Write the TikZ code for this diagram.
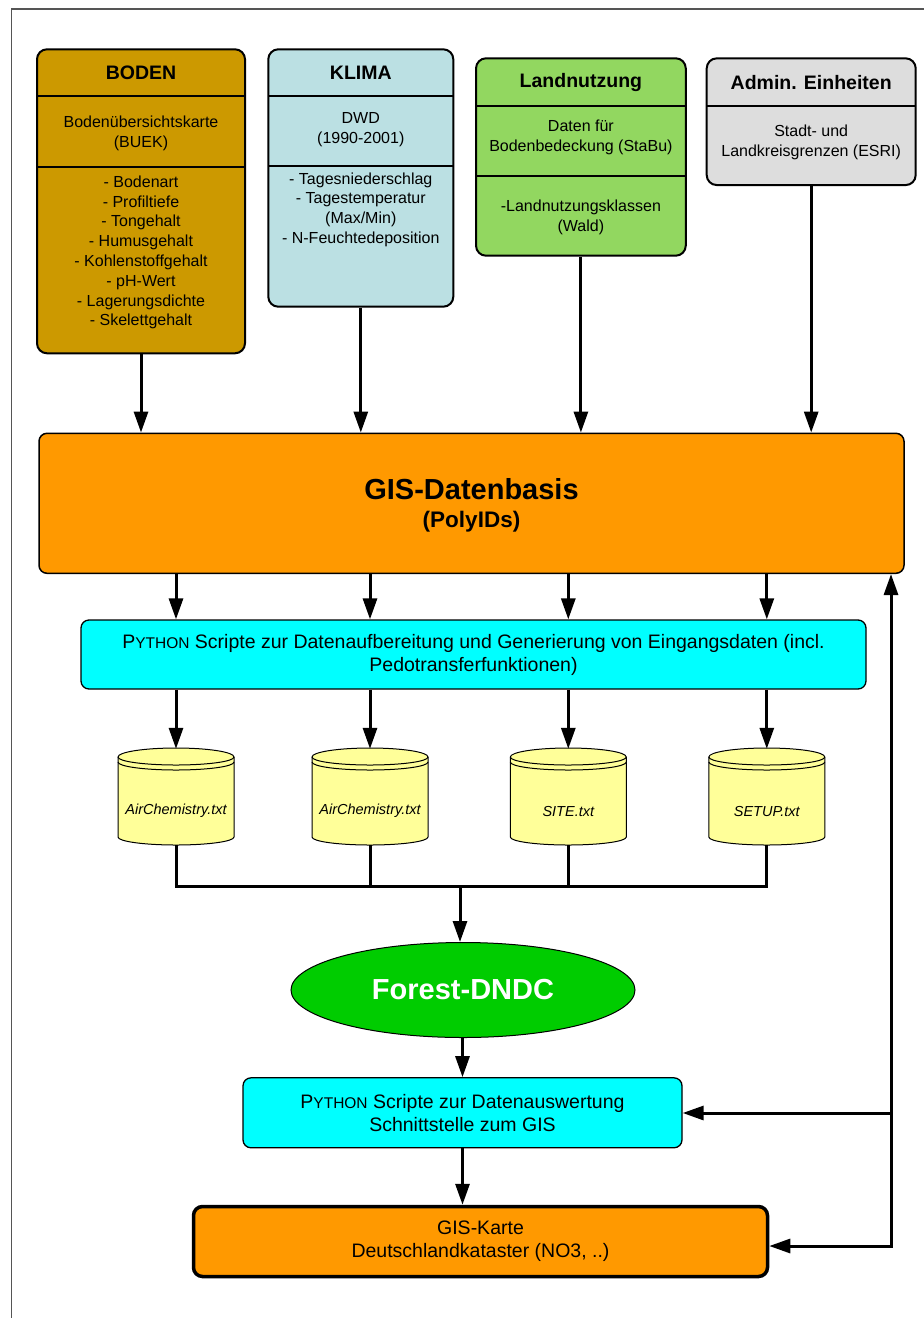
\documentclass[tikz,border=0pt]{standalone}
\usepackage{fontspec}
\setmainfont{Liberation Sans}
\usetikzlibrary{arrows.meta,shapes.geometric,calc}

\definecolor{bodenfill}{HTML}{CC9900}
\definecolor{klimafill}{HTML}{BBE0E3}
\definecolor{landfill}{HTML}{92D760}
\definecolor{adminfill}{HTML}{DDDDDD}
\definecolor{gisorange}{HTML}{FF9900}
\definecolor{pycyan}{HTML}{00FFFF}
\definecolor{cylfill}{HTML}{FFFF99}
\definecolor{dndcgreen}{HTML}{00CC00}
\definecolor{framegray}{HTML}{555555}

% Python written with small capitals
\newcommand\pyname{P{\fontsize{15.5}{18}\selectfont YTHON}}

\tikzset{
  catbox/.style={draw=black, line width=2pt, rounded corners=10pt, inner sep=0pt},
  divider/.style={line width=1.8pt},
  hdr/.style={font=\fontsize{19.5}{22}\selectfont\bfseries, inner sep=0pt},
  body/.style={font=\fontsize{16}{19.8}\selectfont, align=center, inner sep=0pt},
  tip/.tip={Triangle[length=21pt,width=14pt]},
  conn/.style={line width=3pt, -tip},
  plainline/.style={line width=3pt},
  pybox/.style={draw=black, line width=1.3pt, fill=pycyan, rounded corners=8pt,
    font=\fontsize{19.5}{23}\selectfont, align=center, inner sep=0pt},
  cylshape/.style={draw=black, line width=1pt, fill=cylfill},
  cyltext/.style={font=\fontsize{14.5}{17}\selectfont\itshape, inner sep=0pt},
  slot/.style={inner sep=0pt, minimum width=116pt, minimum height=96pt},
}

\begin{document}
\begin{tikzpicture}[x=1pt, y=-1pt]
\useasboundingbox (0,0) rectangle (924,1318);

% page frame (top and left edges)
\draw[framegray, line width=1.3pt] (924,9) -- (11.5,9) -- (11.5,1318);

% ---------- input data sources ----------
\node[catbox, fill=bodenfill, minimum width=208pt, minimum height=304pt] (boden) at (141,201.3) {};
\draw[divider] (37,96) -- (245,96);
\draw[divider] (37,166.7) -- (245,166.7);
\node[hdr] (bodenT) at (141,72.5) {BODEN};
\node[body] (bodenA) at (141,133) {Bodenübersichtskarte\\(BUEK)};
\node[body] (bodenB) at (141,252.5) {- Bodenart\\- Profiltiefe\\- Tongehalt\\- Humusgehalt\\- Kohlenstoffgehalt\\- pH-Wert\\- Lagerungsdichte\\- Skelettgehalt};

\node[catbox, fill=klimafill, minimum width=185pt, minimum height=257.4pt] (klima) at (360.8,178) {};
\draw[divider] (268.3,96) -- (453.3,96);
\draw[divider] (268.3,166.3) -- (453.3,166.3);
\node[hdr] (klimaT) at (360.8,72.5) {KLIMA};
\node[body] (klimaA) at (360.8,129.5) {DWD\\(1990-2001)};
\node[body] (klimaB) at (360.8,209.6) {- Tagesniederschlag\\- Tagestemperatur\\(Max/Min)\\- N-Feuchtedeposition};

\node[catbox, fill=landfill, minimum width=209.7pt, minimum height=197.4pt] (land) at (580.9,157) {};
\draw[divider] (476,105.7) -- (685.7,105.7);
\draw[divider] (476,175.7) -- (685.7,175.7);
\node[hdr] (landT) at (580.9,82.5) {Landnutzung};
\node[body] (landA) at (580.9,137.7) {Daten für\\Bodenbedeckung (StaBu)};
\node[body] (landB) at (580.9,217.7) {-Landnutzungsklassen\\(Wald)};

\node[catbox, fill=adminfill, minimum width=209pt, minimum height=126.7pt] (admin) at (811.2,121.7) {};
\draw[divider] (706.7,105.7) -- (915.7,105.7);
\node[hdr] (adminT) at (811.2,82.5) {Admin. Einheiten};
\node[body] (adminA) at (811.2,142.7) {Stadt- und\\Landkreisgrenzen (ESRI)};

% ---------- GIS data base ----------
\node[draw=black, line width=1.5pt, fill=gisorange, rounded corners=8pt,
      minimum width=865pt, minimum height=140pt] (gis) at (471.5,503.3) {};
\node[font=\fontsize{29}{32}\selectfont\bfseries, inner sep=0pt] (gisT) at (471.5,489.5) {GIS-Datenbasis};
\node[font=\fontsize{22.5}{26}\selectfont\bfseries, inner sep=0pt] (gisS) at (471.5,521.5) {(PolyIDs)};

\foreach \src in {boden,klima,land,admin}
  \draw[conn] (\src.south) -- (\src.south |- gis.north);

% ---------- preprocessing scripts ----------
\node[pybox, minimum width=785pt, minimum height=69pt] (py1) at (473.5,654.5)
  {\pyname{} Scripte zur Datenaufbereitung und Generierung von Eingangsdaten (incl.\\Pedotransferfunktionen)};

% ---------- input files ----------
\foreach \cx/\nm/\lbl in {176/c1/AirChemistry.txt, 370/c2/AirChemistry.txt, 568.3/c3/SITE.txt, 766.8/c4/SETUP.txt}{
  \path[cylshape] (\cx-58,757) -- (\cx-58,837)
     arc[start angle=180, end angle=0, x radius=58, y radius=8]
     -- (\cx+58,757)
     arc[start angle=0, end angle=-180, x radius=58, y radius=9] -- cycle;
  \draw[line width=1pt] (\cx-58,757) arc[start angle=180, end angle=0, x radius=58, y radius=8];
  \draw[line width=1pt] (\cx-58,762) arc[start angle=180, end angle=0, x radius=58, y radius=8];
  \node[slot] (\nm) at (\cx,797) {};
  \node[cyltext] (\nm t) at (\cx,811) {\lbl};
}

\foreach \c in {c1,c2,c3,c4}{
  \draw[conn] (gis.south -| \c) -- (py1.north -| \c);
  \draw[conn] (py1.south -| \c) -- (\c.north);
}

% ---------- collecting the files ----------
\coordinate (jn) at (460,886.5);
\draw[plainline] (c1.south) -- (c1.south |- jn) -- (c4.south |- jn) -- (c4.south);
\draw[plainline] (c2.south) -- (c2.south |- jn);
\draw[plainline] (c3.south) -- (c3.south |- jn);

% ---------- model ----------
\node[ellipse, draw=black, line width=1pt, fill=dndcgreen, minimum width=344pt, minimum height=95pt,
      inner sep=0pt, text=white, font=\fontsize{29}{32}\selectfont\bfseries] (dndc) at (463,990) {Forest-DNDC};
\draw[conn] (jn) -- (jn |- dndc.north);

% ---------- postprocessing and map ----------
\node[pybox, minimum width=439pt, minimum height=70pt] (py2) at (462.5,1112.8)
  {\pyname{} Scripte zur Datenauswertung\\Schnittstelle zum GIS};
\draw[conn] (dndc.south -| py2) -- (py2.north);

\node[draw=black, line width=3.5pt, fill=gisorange, rounded corners=9pt,
      minimum width=574pt, minimum height=70pt, font=\fontsize{19.5}{23}\selectfont,
      align=center, inner sep=0pt] (karte) at (480.5,1241.5) {GIS-Karte\\Deutschlandkataster (NO3, ..)};
\draw[conn] (py2.south) -- (py2.south |- karte.north);

% ---------- feedback loop ----------
\coordinate (lpB) at (891,1246);
\coordinate (lpM) at (891,1113);
\draw[line width=3pt, tip-tip] (lpB |- gis.south) -- (lpB) -- (lpB -| karte.east);
\draw[conn] (lpM) -- (lpM -| py2.east);

\end{tikzpicture}
\end{document}
